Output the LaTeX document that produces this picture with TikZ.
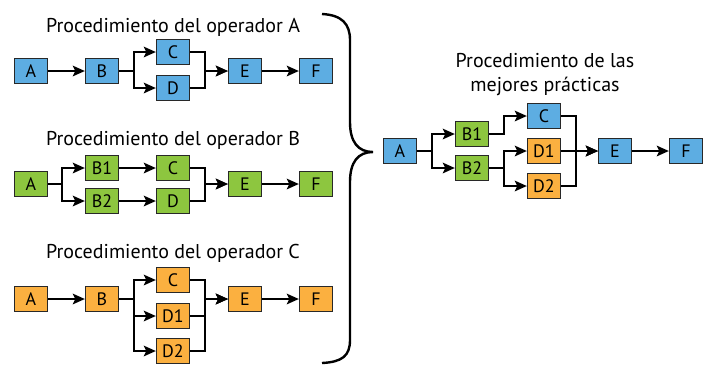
\documentclass[tikz,border=0pt]{standalone}
\usepackage{fontspec}
\setmainfont{PT Sans}
\usetikzlibrary{arrows.meta}
\definecolor{boxblue}{RGB}{93,173,226}
\definecolor{boxgreen}{RGB}{141,198,63}
\definecolor{boxorange}{RGB}{251,176,64}
\definecolor{boxedge}{RGB}{40,40,40}
\tikzset{
  stepbox/.style={draw=boxedge, line width=1.3pt, minimum width=33pt, minimum height=25pt,
    inner sep=0pt, font=\fontsize{18}{18}\selectfont},
  bl/.style={stepbox, fill=boxblue},
  gr/.style={stepbox, fill=boxgreen},
  og/.style={stepbox, fill=boxorange},
  title/.style={font=\fontsize{20}{24}\selectfont, align=center},
  link/.style={line width=2.2pt, line join=miter},
  arr/.style={link, -{Stealth[length=12pt,width=10.5pt,inset=2.5pt]}},
}
\begin{document}
\begin{tikzpicture}[x=1pt, y=-1pt]
\useasboundingbox (0,0) rectangle (703,365);

% Operator A
\node[title] (tA) at (173,27) {Procedimiento del operador A};
\node[bl] (aA) at (31,71) {A};
\node[bl] (aB) at (102,71) {B};
\node[bl] (aC) at (173,52) {C};
\node[bl] (aD) at (173,88) {D};
\node[bl] (aE) at (245,71) {E};
\node[bl] (aF) at (316,71) {F};
\draw[arr] (aA) -- (aB);
\draw[arr] (aB.east) -- ++(15,0) |- (aC.west);
\draw[arr] (aB.east) -- ++(15,0) |- (aD.west);
\draw[arr] (aC.east) -- ++(15,0) |- (aE.west);
\draw[arr] (aD.east) -- ++(15,0) |- (aE.west);
\draw[arr] (aE) -- (aF);

% Operator B
\node[title] (tB) at (173,140) {Procedimiento del operador B};
\node[gr] (bA) at (31,184) {A};
\node[gr] (bB1) at (102,168) {B1};
\node[gr] (bB2) at (102,201) {B2};
\node[gr] (bC) at (173,168) {C};
\node[gr] (bD) at (173,201) {D};
\node[gr] (bE) at (245,184) {E};
\node[gr] (bF) at (316,184) {F};
\draw[arr] (bA.east) -- ++(14,0) |- (bB1.west);
\draw[arr] (bA.east) -- ++(14,0) |- (bB2.west);
\draw[arr] (bB1) -- (bC);
\draw[arr] (bB2) -- (bD);
\draw[arr] (bC.east) -- ++(15,0) |- (bE.west);
\draw[arr] (bD.east) -- ++(15,0) |- (bE.west);
\draw[arr] (bE) -- (bF);

% Operator C
\node[title] (tC) at (173,253) {Procedimiento del operador C};
\node[og] (cA) at (31,299) {A};
\node[og] (cB) at (102,299) {B};
\node[og] (cC) at (173,280) {C};
\node[og] (cD1) at (173,316) {D1};
\node[og] (cD2) at (173,351) {D2};
\node[og] (cE) at (245,299) {E};
\node[og] (cF) at (316,299) {F};
\draw[arr] (cA) -- (cB);
\draw[arr] (cB.east) -- ++(15,0) |- (cC.west);
\draw[arr] (cB.east) -- ++(15,0) |- (cD1.west);
\draw[arr] (cB.east) -- ++(15,0) |- (cD2.west);
\draw[arr] (cC.east) -- ++(15,0) |- (cE.west);
\draw[arr] (cD1.east) -- ++(15,0) |- (cE.west);
\draw[arr] (cD2.east) -- ++(15,0) |- (cE.west);
\draw[arr] (cE) -- (cF);

% Brace joining the three procedures
\draw[line width=2.4pt] (322,14) .. controls (342,15) and (350,24) .. (350,40)
  -- (350,122) .. controls (350,142) and (358,152) .. (373,152)
  .. controls (358,152) and (350,162) .. (350,182)
  -- (350,340) .. controls (350,356) and (342,362) .. (322,363);

% Best practice
\node[title] (tP) at (545,75) {Procedimiento de las\\mejores prácticas};
\node[bl] (pA) at (400,151) {A};
\node[gr] (pB1) at (472,134) {B1};
\node[gr] (pB2) at (472,168) {B2};
\node[bl] (pC) at (544,116) {C};
\node[og] (pD1) at (544,151) {D1};
\node[og] (pD2) at (544,186) {D2};
\node[bl] (pE) at (615,151) {E};
\node[bl] (pF) at (686,151) {F};
\draw[arr] (pA.east) -- ++(15,0) |- (pB1.west);
\draw[arr] (pA.east) -- ++(15,0) |- (pB2.west);
\draw[arr] (pB1.east) -- ++(15,0) |- (pC.west);
\draw[arr] (pB2.east) -- ++(15,0) |- (pD1.west);
\draw[arr] (pB2.east) -- ++(15,0) |- (pD2.west);
\draw[arr] (pC.east) -- ++(15,0) |- (pE.west);
\draw[arr] (pD1) -- (pE);
\draw[arr] (pD2.east) -- ++(15,0) |- (pE.west);
\draw[arr] (pE) -- (pF);
\end{tikzpicture}
\end{document}
